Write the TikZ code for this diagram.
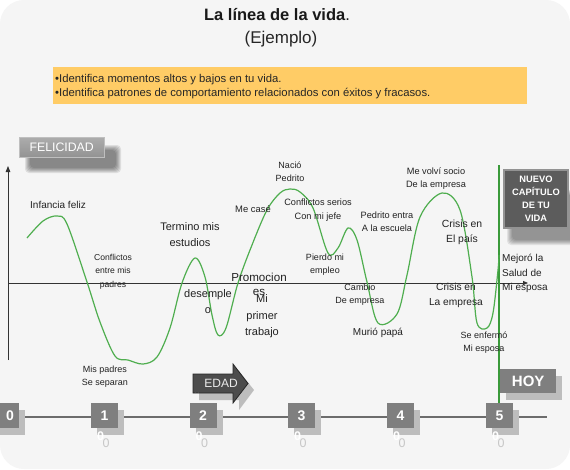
\documentclass[tikz,border=0pt]{standalone}
\usepackage{fontspec}
\setmainfont{Liberation Sans}
\usetikzlibrary{arrows.meta}
\definecolor{bg}{HTML}{F5F5F5}
\definecolor{ybox}{HTML}{FFCC66}
\definecolor{curvegreen}{HTML}{4FAE4F}
\definecolor{vgreen}{HTML}{3A9A3A}
\definecolor{boxgray}{HTML}{7F7F7F}
\definecolor{shadgray}{HTML}{BDBDBD}
\definecolor{txt}{HTML}{222222}
\definecolor{axisc}{HTML}{333333}
\tikzset{
  lblS/.style={font=\fontsize{9}{13}\selectfont, text=txt, align=center, inner sep=0pt},
  lblM/.style={font=\fontsize{10}{14.5}\selectfont, text=txt, align=center, inner sep=0pt},
  lblL/.style={font=\fontsize{11}{15.5}\selectfont, text=txt, align=center, inner sep=0pt},
  numbox/.style={fill=boxgray, minimum width=27pt, minimum height=25pt, inner sep=0pt,
     text=white, font=\fontsize{14}{16}\bfseries\selectfont},
  numshadow/.style={fill=shadgray, minimum width=27pt, minimum height=25pt, inner sep=0pt},
  zerolbl/.style={text=black!22, font=\fontsize{12.5}{14}\selectfont, inner sep=0pt},
  zerowhite/.style={text=white, font=\fontsize{12.5}{14}\bfseries\selectfont, inner sep=0pt},
  axisline/.style={draw=axisc, line width=0.8pt},
}
\begin{document}
\begin{tikzpicture}[x=1pt,y=-1pt]
\useasboundingbox (0,0) rectangle (570,469);
\fill[white] (0,0) rectangle (570,469);
\fill[bg, rounded corners=24pt] (0,0) rectangle (570,469);

% title
\node[font=\fontsize{16.5}{20}\bfseries\selectfont, text=black!90] (title) at (277,15) {La línea de la vida{\mdseries .}};
\node[font=\fontsize{17}{20}\selectfont, text=black!85] (sub) at (281,39) {(Ejemplo)};

% yellow box
\node[fill=ybox, minimum width=474pt, minimum height=37pt, anchor=north west, inner sep=0pt] (ybox) at (53,67) {};
\node[anchor=west, align=left, inner sep=0pt, font=\fontsize{11.3}{14}\selectfont, text=black!85] (ytext) at (55,86.5)
  {•Identifica momentos altos y bajos en tu vida.\\•Identifica patrones de comportamiento relacionados con éxitos y fracasos.};

% FELICIDAD
\foreach \i in {0,1,2,3,4,5}{
  \fill[black, opacity=0.09, rounded corners=4pt] (30-\i,150-\i) rectangle (116+\i,168+\i);
}
\node[top color=gray!65, bottom color=gray!85, draw=gray!50, minimum width=85pt, minimum height=20pt, anchor=north west, inner sep=0pt,
  text=white, font=\fontsize{12.3}{14}\selectfont] (fel) at (19,137) {FELICIDAD};

% axes
\coordinate (yb) at (8,360);
\coordinate (yt) at (8,166);
\coordinate (xl) at (8,283);
\coordinate (xr) at (528,283);
\draw[axisline, -{Triangle[length=6pt,width=4.5pt]}] (yb) -- (yt);
\draw[axisline, -{Triangle[length=5pt,width=4pt]}] (xl) -- (xr);

% NUEVO CAPITULO
\foreach \i in {0,1,2,3,4,5}{
  \fill[black, opacity=0.08, rounded corners=4pt] (512-\i,195-\i) rectangle (575+\i,240+\i);
}
\node[fill=gray!72!black, draw=gray!85, line width=2pt, minimum width=64pt, minimum height=58pt, anchor=north west, inner sep=0pt,
  text=white, align=center, font=\fontsize{9.3}{13}\bfseries\selectfont] (nuevo) at (503,169) {NUEVO\\CAPÍTULO\\DE TU\\VIDA};

% timeline
\coordinate (tl) at (0,417);
\coordinate (tr) at (547,417);
\draw[draw=gray!85!black, line width=1.6pt] (tl) -- (tr);

% green vertical line
\coordinate (gt) at (499,165);
\coordinate (gb) at (499,404);
\draw[vgreen, line width=1.2pt] (gt) -- (gb);

% HOY
\node[fill=shadgray, minimum width=56pt, minimum height=24pt, anchor=north west, inner sep=0pt] (hoysh) at (506,376) {};
\node[fill=boxgray, minimum width=56pt, minimum height=24pt, anchor=north west, inner sep=0pt,
  text=white, font=\fontsize{15}{17}\bfseries\selectfont] (hoy) at (500,369) {HOY};

% number boxes
\node[numshadow] (s0) at (11.5,422) {};
\node[numbox] (b0) at (5.5,415.5) {};
\node[text=white, font=\fontsize{14}{16}\bfseries\selectfont, inner sep=0pt] (t0) at (10,415.5) {0};
\foreach \n/\cx in {1/104.5, 2/203, 3/301.5, 4/400.5, 5/499.5}{
  \node[numshadow] (s\n) at (\cx+6,422) {};
  \node[numbox] (b\n) at (\cx,415.5) {\n};
  \node[zerowhite] (w\n) at (\cx-4,436.5) {0};
  \node[zerolbl] (z\n) at (\cx+1.5,443.5) {0};
}

% EDAD arrow
\fill[shadgray] (199,381) -- (239,381) -- (239,371) -- (254,390) -- (239,410) -- (239,400) -- (199,400) -- cycle;
\draw[fill=gray!60!black, draw=gray!30!black, line width=0.8pt] (193,374) -- (233,374) -- (233,364) -- (248,383.5) -- (233,403) -- (233,393) -- (193,393) -- cycle;
\foreach \xx in {195.5,198.5}{
  \draw[black!70, line width=1pt] (\xx,374.5) -- (\xx,392.5);
}
\node[text=black!8, font=\fontsize{12}{14}\selectfont, inner sep=0pt] (edad) at (221,383.5) {EDAD};

% curve
\draw[curvegreen, line width=1.2pt] plot[smooth, tension=0.55] coordinates {
 (27,238) (43,221) (57,216) (67,224) (87,282) (100,322) (115,356) (128,360) (143,364)
 (157,357) (170,328) (182,283) (195,258) (205,277) (212,315) (218,335) (226,328) (238,283)
 (252,245) (267,210) (280,193) (290,189) (300,192) (313,208) (328,253) (338,248) (348,228)
 (357,240) (367,282) (378,323) (397,314) (407,275) (420,217) (442,193) (460,210) (472,277)
 (477,323) (487,328) (493,313) (498,270) (499,255)};

% labels
\node[lblM] (l1) at (58,205) {Infancia feliz};
\node[lblS, font=\fontsize{8.6}{13.5}\selectfont] (l2) at (113,271.5) {Conflictos\\entre mis\\padres};
\node[lblL] (l3) at (190,234.5) {Termino mis\\estudios};
\node[lblS, font=\fontsize{9.4}{13}\selectfont] (l4) at (253,209) {Me casé};
\node[lblS] (l5) at (290,171.5) {Nació\\Pedrito};
\node[lblS, font=\fontsize{9.2}{14}\selectfont] (l6) at (318,210) {Conflictos serios\\Con mi jefe};
\node[lblS] (l7) at (325,264.5) {Pierdo mi\\empleo};
\node[lblS, font=\fontsize{9.2}{13}\selectfont] (l8) at (387,221.5) {Pedrito entra\\A la escuela};
\node[lblS, font=\fontsize{9.2}{13}\selectfont] (l9) at (436,178.5) {Me volví socio\\De la empresa};
\node[lblM, font=\fontsize{10.4}{15}\selectfont] (l10) at (462,232.5) {Crisis en\\El país};
\node[lblM, align=left, anchor=west] (l11) at (502,273.5) {Mejoró la\\Salud de\\Mi esposa};
\node[lblS] (l12) at (360,294.5) {Cambio\\De empresa};
\node[lblM] (l13) at (378,333) {Murió papá};
\node[lblM, font=\fontsize{10.2}{15}\selectfont] (l14) at (456,295.5) {Crisis en\\La empresa};
\node[lblS] (l15) at (484,342.5) {Se enfermó\\Mi esposa};
\node[lblS] (l16) at (105,376.5) {Mis padres\\Se separan};
\node[lblL, font=\fontsize{11}{16}\selectfont] (l17) at (208,302) {desemple\\o};
\node[lblL, font=\fontsize{11.6}{14}\selectfont] (l18) at (259,284) {Promocion\\es};
\node[lblL, font=\fontsize{11}{16.5}\selectfont] (l19) at (262,316.5) {Mi\\primer\\trabajo};
\end{tikzpicture}
\end{document}
